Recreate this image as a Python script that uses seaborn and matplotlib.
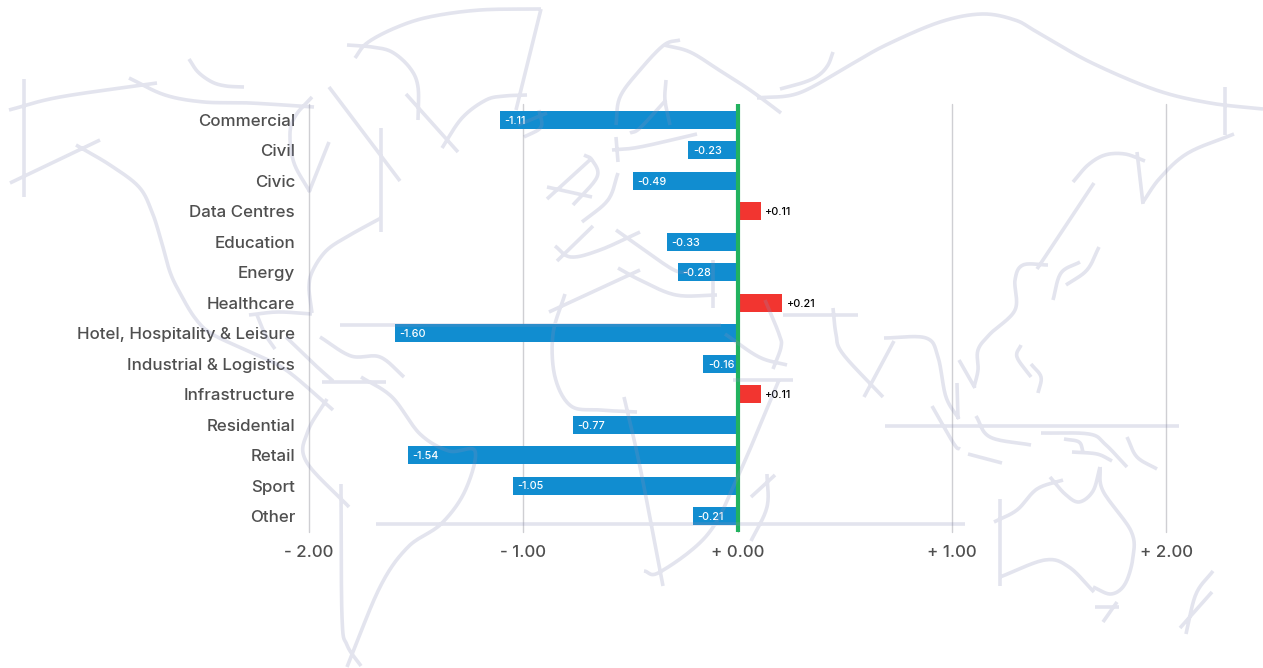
import numpy as np
import pandas as pd
import matplotlib
matplotlib.use('Agg')
import matplotlib.pyplot as plt
import seaborn as sns
from matplotlib.path import Path
from matplotlib.patches import PathPatch

# Chart data
sectors = ['Commercial', 'Civil', 'Civic', 'Data Centres', 'Education', 'Energy', 'Healthcare',
           'Hotel, Hospitality & Leisure', 'Industrial & Logistics', 'Infrastructure',
           'Residential', 'Retail', 'Sport', 'Other']
changes = [-1.11, -0.23, -0.49, 0.11, -0.33, -0.28, 0.21, -1.60, -0.16, 0.11, -0.77, -1.54, -1.05, -0.21]
x_ticks = [-2, -1, 0, 1, 2]
x_tick_labels = ['- 2.00', '- 1.00', '+ 0.00', '+ 1.00', '+ 2.00']

# Decorative world map strokes behind the chart, in picture pixels
map_strokes = [
    [(9,110),(60,97),(157,83)], [(24,79),(24,197)],
    [(129,78),(165,95),(204,102),(250,103),(314,107)], [(189,59),(198,72),(212,82),(226,86),(244,87)],
    [(10,183),(100,140)], [(76,145),(110,165),(139,187),(152,212),(161,240),(170,272),(180,293),(195,318),(212,334),(250,352),(286,370),(333,410)],
    [(312,97),(296,115),(290,133),(294,163),(310,192)], [(329,142),(309,192)], [(329,87),(400,181)],
    [(381,128),(381,232)], [(381,218),(350,235),(327,250),(313,270),(309,287),(312,313)],
    [(249,315),(278,312),(312,314)], [(257,315),(265,334),(275,349)],
    [(355,58),(367,43),(395,28),(429,17),(480,10),(541,9)], [(541,9),(516,110)],
    [(347,45),(372,47),(392,52),(410,68),(418,87),(418,120)], [(406,94),(458,152)],
    [(527,95),(505,96),(486,100),(462,118),(442,148)], [(547,113),(518,125)], [(539,110),(541,127),(524,137)],
    [(616,125),(620,97),(640,70),(664,45),(680,40)], [(664,45),(690,52),(719,70),(750,90),(781,113)],
    [(666,80),(665,100),(670,125)], [(666,100),(640,128),(630,133)],
    [(612,150),(640,147),(697,134)], [(616,137),(618,162)],
    [(592,158),(547,199)], [(547,187),(592,197)], [(584,155),(592,160),(597,177),(573,205)],
    [(618,173),(608,200),(582,222)], [(593,226),(557,261)],
    [(555,246),(571,257),(600,250),(640,232)], [(616,230),(640,247),(674,270),(690,272)],
    [(549,312),(640,270)], [(618,268),(640,280),(676,295),(717,295)],
    [(565,294),(553,334),(555,377),(571,406),(600,410),(637,412)], [(624,397),(640,467),(663,586)],
    [(713,260),(713,308)],
    [(757,98),(799,93),(850,65),(886,45),(940,22),(982,14),(1015,20),(1037,32),(1090,62),(1156,90),(1210,103),(1263,109)],
    [(780,89),(805,82),(819,75),(828,65),(833,52)], [(1225,87),(1225,135)],
    [(1234,134),(1188,153),(1160,178),(1143,202)], [(1137,152),(1143,204)],
    [(1073,182),(1088,165),(1105,155),(1125,154),(1145,161)], [(1094,183),(1037,269)],
    [(1048,265),(1023,265),(1015,280),(1015,310),(990,334),(978,350),(978,370),(974,387)],
    [(1099,247),(1087,270),(1066,285)], [(1080,262),(1061,273),(1053,300)],
    [(783,315),(858,315)], [(833,308),(836,334),(843,354),(883,397)],
    [(765,300),(779,334),(781,347),(773,369)],
    [(884,338),(926,338),(938,357),(946,397),(959,419)], [(894,341),(864,397)],
    [(725,334),(759,357),(787,365)], [(340,325),(721,325)],
    [(733,380),(793,380)], [(779,380),(739,474),(708,534),(660,572),(644,571)],
    [(767,474),(767,507),(751,541)], [(775,475),(751,497)], [(376,524),(965,524)],
    [(320,337),(351,356),(380,357),(404,377)], [(286,337),(314,364),(333,381)],
    [(322,382),(386,382)],
    [(361,377),(392,397),(420,434),(449,451),(475,451),(465,491),(441,524),(408,547),(380,587),(347,667)],
    [(327,399),(308,431),(306,461),(349,507)], [(341,484),(342,617),(347,645),(361,666)],
    [(932,406),(954,444),(960,449)], [(968,454),(1002,463)], [(885,426),(1179,426)],
    [(976,416),(990,437),(1031,445)], [(1041,433),(1089,434),(1105,444),(1127,467)],
    [(1064,439),(1079,442),(1083,452)], [(1072,452),(1097,454),(1112,461)],
    [(1127,437),(1137,457),(1157,469)], [(959,360),(975,388)], [(957,383),(958,419)],
    [(1021,345),(1017,357),(1031,377)], [(1031,364),(1041,377),(1038,393)],
    [(1000,499),(1000,586)], [(994,522),(1017,510),(1037,489),(1063,480)],
    [(1050,477),(1065,494),(1079,502),(1093,491),(1100,467)],
    [(1100,467),(1103,491),(1131,531),(1133,557),(1125,584),(1111,594),(1093,587)],
    [(1000,577),(1045,560),(1069,567),(1094,592)], [(1095,607),(1119,607)],
    [(1117,602),(1103,622)], [(1213,571),(1196,594),(1186,634)], [(1212,592),(1180,628)],
]

# Catmull-Rom smoothing so the strokes read as curves
def smooth_stroke(points, steps=16):
    pts = np.array(points, dtype=float)
    if len(pts) < 3:
        return pts
    pts = np.vstack([2 * pts[0] - pts[1], pts, 2 * pts[-1] - pts[-2]])
    out = []
    for i in range(1, len(pts) - 2):
        p0, p1, p2, p3 = pts[i - 1], pts[i], pts[i + 1], pts[i + 2]
        for t in np.linspace(0, 1, steps, endpoint=False):
            out.append(0.5 * (2 * p1 + (p2 - p0) * t + (2 * p0 - 5 * p1 + 4 * p2 - p3) * t ** 2
                              + (3 * p1 - p0 - 3 * p2 + p3) * t ** 3))
    out.append(pts[-2])
    return np.array(out)

sns.set_style('white')
plt.rcParams['font.family'] = ['Inter', 'DejaVu Sans']

df = pd.DataFrame({'sector': sectors, 'change': changes})
df['direction'] = np.where(df['change'] < 0, 'down', 'up')

W, H = 1263, 668
fig = plt.figure(figsize=(W / 100, H / 100), dpi=100)
ax = fig.add_axes([309 / W, 1 - 532 / H, 857 / W, 428 / H])

sns.barplot(data=df, y='sector', x='change', hue='direction', dodge=False, width=0.6, legend=False,
            palette={'down': '#118dd0', 'up': '#f23530'}, saturation=1, linewidth=0, ax=ax, zorder=3)

ax.set_xlim(-2, 2)
ax.set_ylim(13.52, -0.52)
ax.set_xticks(x_ticks, x_tick_labels)
ax.set_xlabel('')
ax.set_ylabel('')
ax.grid(axis='x', color='#cfcfd3', linewidth=1, zorder=0)
ax.grid(axis='y', visible=False)
ax.set_axisbelow(True)
for gridline in ax.get_xgridlines():
    gridline.set_clip_on(False)
ax.axvline(0, color='#22b25f', linewidth=3, zorder=4)
sns.despine(ax=ax, left=True, bottom=True, top=True, right=True)
ax.tick_params(axis='y', length=0, pad=10, labelsize=12.2, labelcolor='#4f4f4f')
ax.tick_params(axis='x', length=0, pad=9.5, labelsize=12.2, labelcolor='#4f4f4f')
for tick_label in ax.get_xticklabels() + ax.get_yticklabels():
    tick_label.set_fontweight('medium')

# Value labels: white inside the blue bars, black after the red ones
for i, value in enumerate(changes):
    if value < 0:
        ax.annotate(f'{value:.2f}', (value, i), xytext=(3.5, -0.6), textcoords='offset points',
                    color='white', fontsize=7.8, weight='medium', va='center', ha='left', zorder=5)
    else:
        ax.annotate(f'+{value:.2f}', (value, i), xytext=(3, -0.6), textcoords='offset points',
                    color='black', fontsize=7.8, weight='medium', va='center', ha='left', zorder=5)

# Map goes over everything, pale on white and faint on the bars
overlay = fig.add_axes([0, 0, 1, 1], zorder=5)
overlay.set_xlim(0, W)
overlay.set_ylim(H, 0)
overlay.axis('off')
overlay.patch.set_alpha(0)
verts, codes = [], []
for stroke in map_strokes:
    line = smooth_stroke(stroke)
    verts.extend(line.tolist())
    codes.extend([Path.MOVETO] + [Path.LINETO] * (len(line) - 1))
overlay.add_patch(PathPatch(Path(verts, codes), fill=False, edgecolor='#8a90b8', alpha=0.24,
                            linewidth=2.6, capstyle='butt', joinstyle='round'))

fig.savefig('out.png', dpi=100)
